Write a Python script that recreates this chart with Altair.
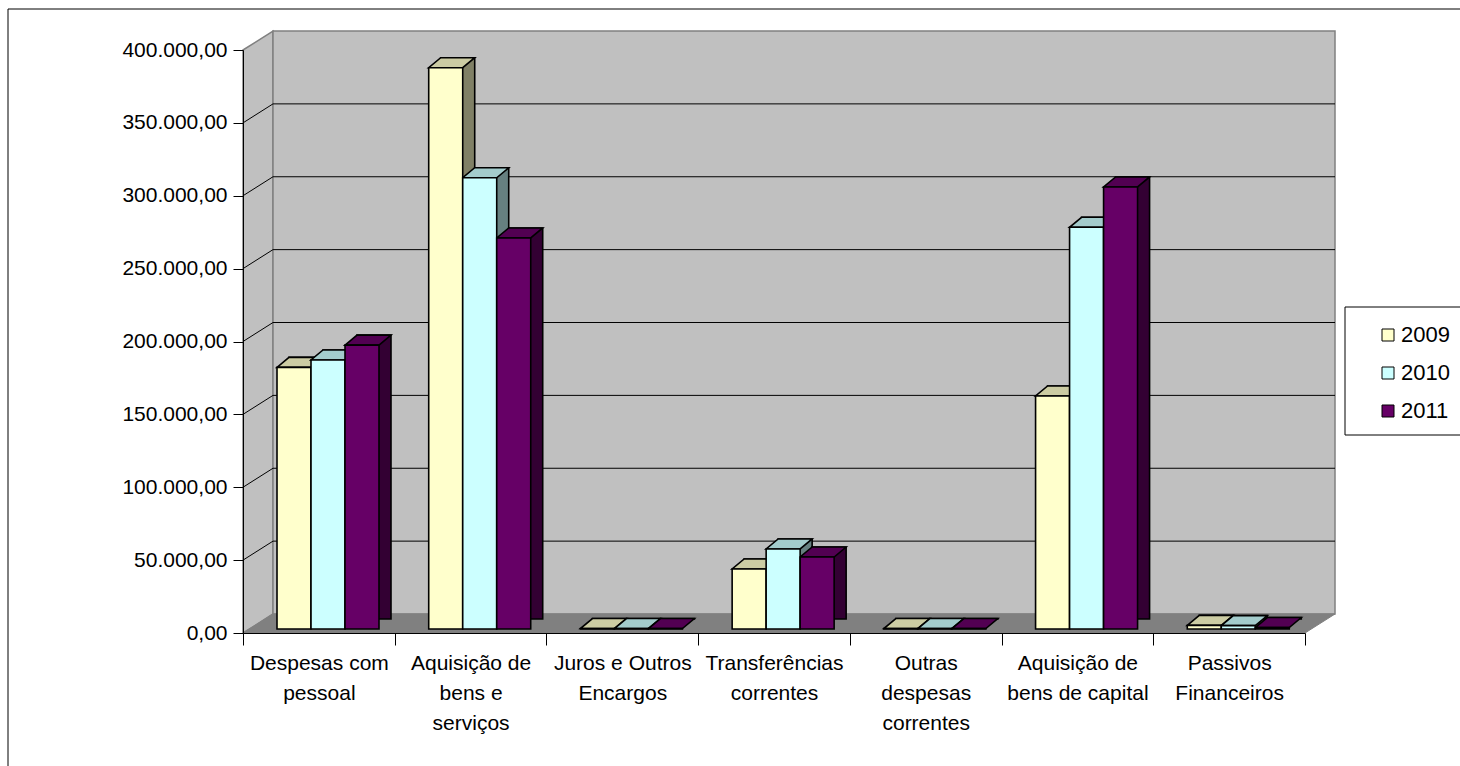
import altair as alt
import pandas as pd

# ---------------- data ----------------
categories = [
    "Despesas com\npessoal",
    "Aquisição de\nbens e\nserviços",
    "Juros e Outros\nEncargos",
    "Transferências\ncorrentes",
    "Outras\ndespesas\ncorrentes",
    "Aquisição de\nbens de capital",
    "Passivos\nFinanceiros",
]
years = ["2009", "2010", "2011"]
values_2009 = [179500, 385100, 300, 41200, 300, 159900, 2500]
values_2010 = [184600, 309600, 300, 54900, 300, 275600, 2300]
values_2011 = [194800, 268300, 300, 49400, 300, 303300, 1000]
y_ticks = [0, 50000, 100000, 150000, 200000, 250000, 300000, 350000, 400000]
grid_values = [50000, 100000, 150000, 200000, 250000, 300000, 350000]

front_colors = ["#FFFFCC", "#CCFFFF", "#660066"]
top_colors = ["#CCCCA3", "#A3CCCC", "#520052"]
side_colors = ["#808066", "#668080", "#330033"]

rows = []
for yr, vals in zip(years, [values_2009, values_2010, values_2011]):
    for c, v in zip(categories, vals):
        rows.append({"categoria": c, "ano": yr, "valor": v})
df = pd.DataFrame(rows)
grid_df = pd.DataFrame({"valor": grid_values})
one = pd.DataFrame({"k": [0]})

# ---------------- geometry ----------------
W, H = 1062, 583
PL, PT, PR, PB = 243, 50, 155, 133
WX, WY = 30, 19      # wall depth
BX, BY = 12, 10      # bar depth
GROUP_L, BAR_W = 34, 34
LIFT = 4
FONT = "Liberation Sans"
FS = 21


def poly_shape(pts, anchor=None):
    if anchor is None:
        xs = [p[0] for p in pts]
        ys = [p[1] for p in pts]
        cx, cy = (min(xs) + max(xs)) / 2, (min(ys) + max(ys)) / 2
    else:
        cx, cy = anchor
    r = max(max(abs(x - cx), abs(y - cy)) for x, y in pts)
    path = "M" + " L".join(f"{(x - cx) / r:.5f},{(y - cy) / r:.5f}" for x, y in pts) + " Z"
    return path, (2 * r) ** 2, cx, cy


def shape_layer(pts, fill, stroke, sw=1.0):
    path, size, cx, cy = poly_shape(pts)
    return alt.Chart(one).mark_point(
        shape=path, size=size, filled=True, fill=fill, stroke=stroke,
        strokeWidth=sw, opacity=1
    ).encode(x=alt.value(cx), y=alt.value(cy))


# ---------------- shared scales / axes ----------------
y_scale = alt.Scale(domain=[0, 400000], nice=False)
x_scale = alt.Scale(domain=categories, paddingInner=0, paddingOuter=0)

x_axis = alt.Axis(
    title=None, tickBand="extent", tickSize=12, labelAngle=0,
    labelExpr="split(datum.label, '\\n')", labelFontSize=FS, labelLineHeight=30,
    labelPadding=7, labelColor="black", labelFont=FONT, domainColor="black",
    tickColor="black", grid=False, labelLimit=300, zindex=2,
)
y_axis = alt.Axis(
    title=None, values=y_ticks, tickSize=10, tickColor="black", domainColor="black",
    labelFontSize=FS, labelFont=FONT, labelColor="black", labelPadding=6, grid=False,
    zindex=2,
    labelExpr="replace(replace(replace(format(datum.value, ',.2f'), ',', '#'), '.', ','), '#', '.')",
)

X = alt.X("categoria:N", sort=categories, scale=x_scale, axis=x_axis)
Y = alt.Y("valor:Q", scale=y_scale, axis=y_axis)

# ---------------- decoration ----------------
frame = alt.Chart(one).mark_rect(fillOpacity=0, stroke="black", strokeWidth=1).encode(
    x=alt.value(8 - PL), x2=alt.value(W + PR + 30),
    y=alt.value(9 - PT), y2=alt.value(H + PB + 30),
)
legend_box = alt.Chart(one).mark_rect(fill="white", stroke="black", strokeWidth=1).encode(
    x=alt.value(1345 - PL), x2=alt.value(W + PR + 30),
    y=alt.value(307 - PT), y2=alt.value(435 - PT),
)

side_wall = shape_layer([(0, 0), (WX, -WY), (WX, H - WY), (0, H)], "#C0C0C0", "#808080", 1.5)
back_wall = shape_layer([(WX, -WY), (W + WX, -WY), (W + WX, H - WY), (WX, H - WY)], "#C0C0C0", "#808080", 1.5)
floor = shape_layer([(0, H), (W, H), (W + WX, H - WY), (WX, H - WY)], "#808080", "#808080", 1)

grid_h = alt.Chart(grid_df).mark_rule(color="black", strokeWidth=1, yOffset=-WY).encode(
    y=Y, x=alt.value(WX), x2=alt.value(W + WX),
)
grid_d = alt.Chart(grid_df).mark_rule(color="black", strokeWidth=1, y2Offset=-WY).encode(
    y=Y, y2=alt.Y2("valor"), x=alt.value(0), x2=alt.value(WX),
)


# ---------------- bars ----------------
def xo_band(shift):
    return alt.XOffset(
        "ano:N", sort=years,
        scale=alt.Scale(type="band", domain=years,
                        range=[GROUP_L + shift, GROUP_L + shift + 3 * BAR_W],
                        paddingInner=0, paddingOuter=0),
    )


def xo_point():
    return alt.XOffset(
        "ano:N", sort=years,
        scale=alt.Scale(type="point", domain=years,
                        range=[GROUP_L + BAR_W / 2, GROUP_L + BAR_W / 2 + 2 * BAR_W],
                        padding=0),
    )


bars_side = alt.Chart(df).mark_bar(
    stroke="black", strokeWidth=1.6, yOffset=-(LIFT + BY), y2Offset=-(LIFT + BY)
).encode(
    x=X, xOffset=xo_band(BX), y=Y,
    color=alt.Color("ano:N", scale=alt.Scale(domain=years, range=side_colors), legend=None),
)

top_path, top_size, _, _ = poly_shape(
    [(-BAR_W / 2, 0), (BAR_W / 2, 0), (BAR_W / 2 + BX, -BY), (-BAR_W / 2 + BX, -BY)], anchor=(0, 0)
)
bars_top = alt.Chart(df).mark_point(
    shape=top_path, size=top_size, filled=True, stroke="black", strokeWidth=1.6,
    opacity=1, yOffset=-LIFT
).encode(
    x=X, xOffset=xo_point(), y=Y,
    color=alt.Color("ano:N", scale=alt.Scale(domain=years, range=top_colors), legend=None),
)

bars_front = alt.Chart(df).mark_bar(
    stroke="black", strokeWidth=1.6, yOffset=-LIFT, y2Offset=-LIFT
).encode(
    x=X, xOffset=xo_band(0), y=Y,
    color=alt.Color(
        "ano:N", scale=alt.Scale(domain=years, range=front_colors),
        legend=alt.Legend(
            orient="none", legendX=1377 - PL, legendY=324 - PT, title=None,
            symbolType="square", symbolSize=144, symbolStrokeColor="black",
            symbolStrokeWidth=1, labelFontSize=22, labelFont=FONT, labelColor="black",
            rowPadding=16, labelOffset=2, padding=0,
        ),
    ),
)

chart = alt.layer(
    frame, legend_box, side_wall, back_wall, floor, grid_h, grid_d,
    bars_side, bars_top, bars_front,
).resolve_scale(
    color="independent", xOffset="independent"
).properties(
    width=W, height=H,
    padding={"left": PL, "top": PT, "right": PR, "bottom": PB},
    autosize=alt.AutoSizeParams(type="none"),
).configure_view(stroke=None).configure(background="white")

chart.save("out.html", embed_options={"renderer": "svg", "actions": False})
